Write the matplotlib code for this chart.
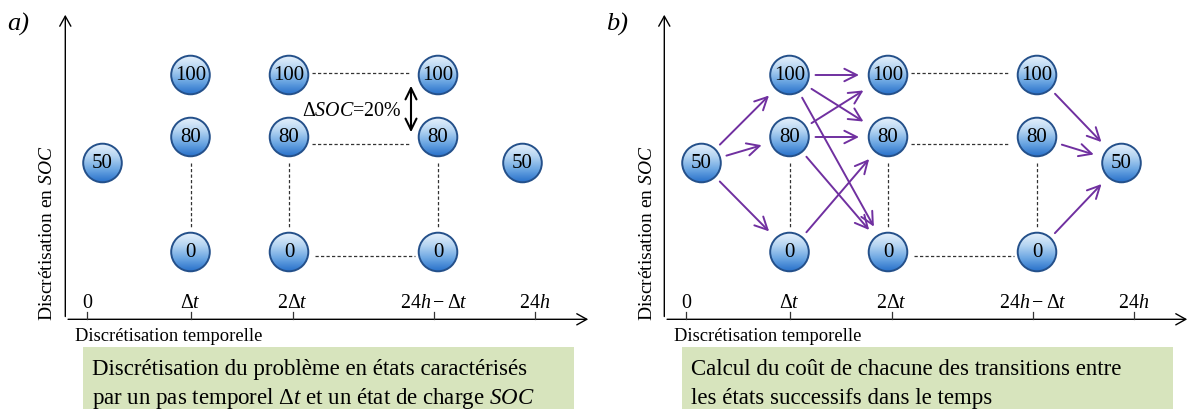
import matplotlib
matplotlib.use("Agg")
import matplotlib.pyplot as plt
import numpy as np
from matplotlib.colors import LinearSegmentedColormap
from matplotlib.patches import Circle, FancyArrowPatch, Rectangle

plt.rcParams["font.family"] = ["Liberation Serif", "DejaVu Serif"]
plt.rcParams["mathtext.fontset"] = "custom"
plt.rcParams["mathtext.rm"] = "Liberation Serif"
plt.rcParams["mathtext.it"] = "Liberation Serif:italic"

# ---- data ----
time_labels = ["0", r"$\Delta t$", r"$2\Delta t$", r"$24h-\Delta t$", r"$24h$"]
soc_levels = [100, 80, 0]      # intermediate states
soc_boundary = 50              # initial and final state
delta_soc_label = r"$\Delta SOC$=20%"

# transitions drawn in panel b: (time index, soc) -> (time index, soc)
transitions = [
    ((0, 50), (1, 100)), ((0, 50), (1, 80)), ((0, 50), (1, 0)),
    ((1, 100), (2, 100)), ((1, 100), (2, 80)), ((1, 100), (2, 0)),
    ((1, 80), (2, 100)), ((1, 80), (2, 80)), ((1, 80), (2, 0)),
    ((1, 0), (2, 80)),
    ((3, 100), (4, 50)), ((3, 80), (4, 50)), ((3, 0), (4, 50)),
]

panel_labels = ["a)", "b)"]
xlabel = "Discrétisation temporelle"
ylabel = r"Discrétisation en $SOC$"
captions = [
    ["Discrétisation du problème en états caractérisés",
     r"par un pas temporel $\Delta t$ et un état de charge $SOC$"],
    ["Calcul du coût de chacune des transitions entre",
     "les états successifs dans le temps"],
]

# ---- layout (pixels inside one panel) ----
W, H = 1190, 409
panel_x0 = [0, 599]
tick_x = [87, 190.5, 292.5, 433.5, 535]
node_x = [102.5, 190.5, 289, 438, 522.5]
row_y = {100: 75, 80: 137, 50: 163, 0: 252}
axis_x, axis_y = 65.3, 319.3
R = 19.3
PX = 72 / 100  # px -> pt

node_cmap = LinearSegmentedColormap.from_list(
    "node", ["#e8f2fc", "#b6d5f2", "#6ea8e3", "#2a72cb"])
grad = np.linspace(0, 1, 64)[:, None] * np.ones((1, 8))


def draw_node(ax, x, y, text):
    circ = Circle((x, y), R, facecolor="none", edgecolor="#24508a", lw=1.4, zorder=4)
    im = ax.imshow(grad, cmap=node_cmap, extent=(x - R, x + R, y + R, y - R),
                   origin="upper", aspect="auto", zorder=3, interpolation="bilinear")
    ax.add_patch(circ)
    im.set_clip_path(circ)
    ax.text(x, y + 0.5, str(text), ha="center", va="center", fontsize=15, zorder=5)


def dashed(ax, xs, ys):
    ax.plot(xs, ys, color="#333333", lw=0.9, ls=(0, (2.6, 1.8)), zorder=2)


def draw_frame(ax, x0, k):
    # axes with open arrow heads
    ax.add_patch(FancyArrowPatch((x0 + axis_x, axis_y), (x0 + axis_x, 12),
                                 arrowstyle="->,head_length=0.45,head_width=0.25",
                                 mutation_scale=16, lw=1.0, color="black", zorder=2))
    ax.add_patch(FancyArrowPatch((x0 + axis_x, axis_y), (x0 + 591, axis_y),
                                 arrowstyle="->,head_length=0.45,head_width=0.25",
                                 mutation_scale=16, lw=1.0, color="black", zorder=2))
    for tx, lab in zip(tick_x, time_labels):
        ax.plot([x0 + tx, x0 + tx], [axis_y - 7, axis_y], color="#333333", lw=0.9)
        ax.text(x0 + tx, 308, lab, ha="center", va="baseline", fontsize=14.4)
    ax.text(x0 + 75, 341, xlabel, ha="left", va="baseline", fontsize=13.3)
    ax.text(x0 + 48, 233, ylabel, ha="center", va="center", rotation=90, fontsize=14)
    ax.text(x0 + 7.5, 24, panel_labels[k], ha="left", va="center",
            fontsize=19, style="italic")

    # caption box
    ax.add_patch(Rectangle((x0 + 83, 347), 491, 70, facecolor="#d7e4bd",
                           edgecolor="none", zorder=1))
    for line, base in zip(captions[k], [375, 404]):
        ax.text(x0 + 92, base, line, ha="left", va="baseline", fontsize=16.5, zorder=2)

    # node grid
    draw_node(ax, x0 + node_x[0], row_y[soc_boundary], soc_boundary)
    draw_node(ax, x0 + node_x[-1], row_y[soc_boundary], soc_boundary)
    for col in (1, 2, 3):
        for soc in soc_levels:
            draw_node(ax, x0 + node_x[col], row_y[soc], soc)
        dashed(ax, [x0 + node_x[col]] * 2, [163, 229])
    x2, x3 = x0 + node_x[2], x0 + node_x[3]
    dashed(ax, [x2 + 23, x3 - 27], [row_y[100] - 2] * 2)
    dashed(ax, [x2 + 23, x3 - 27], [row_y[80] + 7] * 2)
    dashed(ax, [x2 + 26, x3 - 23], [row_y[0] + 4] * 2)


fig = plt.figure(figsize=(W / 100, H / 100), dpi=100)
ax = fig.add_axes([0, 0, 1, 1])
ax.set_xlim(0, W)
ax.set_ylim(H, 0)
ax.axis("off")

for k, x0 in enumerate(panel_x0):
    draw_frame(ax, x0, k)

# panel a: SOC step
xa = panel_x0[0] + node_x[3] - 27
ax.add_patch(FancyArrowPatch((xa, row_y[100] + 8), (xa, row_y[80] - 2),
                             arrowstyle="<->,head_length=0.45,head_width=0.22",
                             mutation_scale=18, lw=1.5, color="black", zorder=3))
ax.text(panel_x0[0] + 352, 112, delta_soc_label, ha="center", va="center", fontsize=14.4)

# panel b: transitions
xb = panel_x0[1]
for (c0, s0), (c1, s1) in transitions:
    ax.add_patch(FancyArrowPatch(
        (xb + node_x[c0], row_y[s0]), (xb + node_x[c1], row_y[s1]),
        arrowstyle="->,head_length=0.5,head_width=0.25", mutation_scale=18,
        lw=1.4, color="#7030a0", shrinkA=26 * PX, shrinkB=29 * PX, zorder=6))

fig.savefig("out.png", dpi=100)
